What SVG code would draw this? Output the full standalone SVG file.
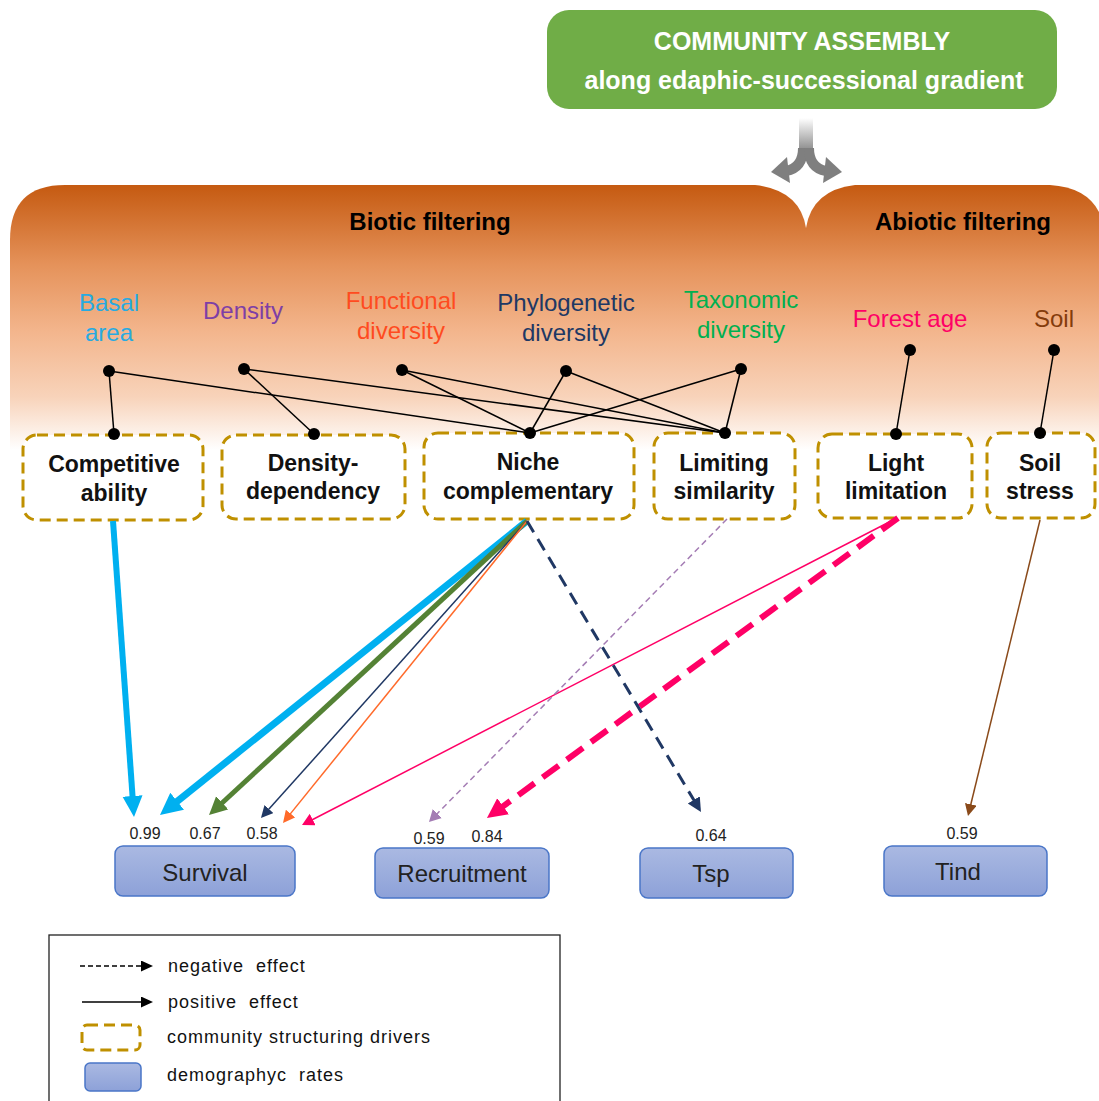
<svg xmlns="http://www.w3.org/2000/svg" width="1099" height="1101" viewBox="0 0 1099 1101">
<defs>
<style>
text{font-family:"Liberation Sans",Arial,sans-serif}
.h{font-weight:bold;font-size:24px;fill:#000;text-anchor:middle}
.lab{font-size:24px;text-anchor:middle}
.nd{font-weight:bold;font-size:23px;fill:#111;text-anchor:middle}
.drv{fill:#fff;stroke:#BF9000;stroke-width:3;stroke-dasharray:11 6}
.rate{fill:url(#blueg);stroke:#4A76C8;stroke-width:1.5}
.rt{font-size:24px;fill:#222;text-anchor:middle}
.val{font-size:16px;fill:#222;text-anchor:middle}
.e{stroke:#000;stroke-width:1.5;fill:none}
.dot{fill:#000}
.leg{font-size:18px;fill:#111;letter-spacing:1px}
</style>
<linearGradient id="orange" gradientUnits="userSpaceOnUse" x1="0" y1="185" x2="0" y2="450">
<stop offset="0" stop-color="#C55A11"/>
<stop offset="0.3" stop-color="#E5925A"/>
<stop offset="0.55" stop-color="#F3B58C"/>
<stop offset="0.8" stop-color="#F8D3BA"/>
<stop offset="1" stop-color="#FFFFFF"/>
</linearGradient>
<linearGradient id="blueg" x1="0" y1="0" x2="0" y2="1">
<stop offset="0" stop-color="#AAB9E2"/>
<stop offset="1" stop-color="#8DA1D8"/>
</linearGradient>
<linearGradient id="stem" x1="0" y1="0" x2="0" y2="1">
<stop offset="0" stop-color="#FFFFFF"/>
<stop offset="1" stop-color="#7F7F7F"/>
</linearGradient>
<marker id="mCyanL" markerUnits="userSpaceOnUse" markerWidth="24" markerHeight="24" refX="1" refY="10" orient="auto"><path d="M0,0 L21,10 L0,20 z" fill="#00B0F0"/></marker>
<marker id="mCyanXL" markerUnits="userSpaceOnUse" markerWidth="26" markerHeight="26" refX="1" refY="11" orient="auto"><path d="M0,0 L22,11 L0,22 z" fill="#00B0F0"/></marker>
<marker id="mGreen" markerUnits="userSpaceOnUse" markerWidth="22" markerHeight="22" refX="1" refY="9" orient="auto"><path d="M0,0 L18,9 L0,18 z" fill="#548235"/></marker>
<marker id="mNavyS" markerUnits="userSpaceOnUse" markerWidth="16" markerHeight="16" refX="1" refY="6" orient="auto"><path d="M0,0 L12,6 L0,12 z" fill="#203864"/></marker>
<marker id="mNavyM" markerUnits="userSpaceOnUse" markerWidth="18" markerHeight="18" refX="1" refY="7" orient="auto"><path d="M0,0 L14,7 L0,14 z" fill="#203864"/></marker>
<marker id="mOrange" markerUnits="userSpaceOnUse" markerWidth="16" markerHeight="16" refX="1" refY="6" orient="auto"><path d="M0,0 L12,6 L0,12 z" fill="#FF6A2A"/></marker>
<marker id="mPinkS" markerUnits="userSpaceOnUse" markerWidth="16" markerHeight="16" refX="1" refY="6.5" orient="auto"><path d="M0,0 L12,6.5 L0,13 z" fill="#FF0066"/></marker>
<marker id="mPinkL" markerUnits="userSpaceOnUse" markerWidth="24" markerHeight="24" refX="1" refY="10" orient="auto"><path d="M0,0 L20,10 L0,20 z" fill="#FF0066"/></marker>
<marker id="mPurple" markerUnits="userSpaceOnUse" markerWidth="16" markerHeight="16" refX="1" refY="6.5" orient="auto"><path d="M0,0 L12,6.5 L0,13 z" fill="#A47CB4"/></marker>
<marker id="mBrown" markerUnits="userSpaceOnUse" markerWidth="16" markerHeight="16" refX="1" refY="6" orient="auto"><path d="M0,0 L12,6 L0,12 z" fill="#8A4A1A"/></marker>
<marker id="mBlack" markerUnits="userSpaceOnUse" markerWidth="16" markerHeight="16" refX="1" refY="5.5" orient="auto"><path d="M0,0 L12,5.5 L0,11 z" fill="#000"/></marker>
</defs>

<!-- Filtering panels -->
<g id="panels">
<path d="M10,530 V240 Q10,185 65,185 H755 Q800,190 806,228 V530 Z" fill="url(#orange)"/>
<path d="M806,228 Q812,190 855,185 H1050 Q1099,188 1105,232 V530 H806 Z" fill="url(#orange)"/>
<text class="h" x="430" y="230">Biotic filtering</text>
<text class="h" x="963" y="230">Abiotic filtering</text>
</g>

<!-- Community assembly -->
<g id="assembly">
<rect x="547" y="10" width="510" height="99" rx="22" fill="#70AD47"/>
<text x="802" y="50" font-weight="bold" font-size="25" fill="#fff" text-anchor="middle">COMMUNITY ASSEMBLY</text>
<text x="804" y="89" font-weight="bold" font-size="25" fill="#fff" text-anchor="middle">along edaphic-successional gradient</text>
</g>

<g id="split-arrow">
<rect x="799" y="118" width="14" height="36" fill="url(#stem)"/>
<path d="M803,148 Q803,168 786,171" stroke="#7F7F7F" stroke-width="10" fill="none"/>
<path d="M809,148 Q809,168 826,171" stroke="#7F7F7F" stroke-width="10" fill="none"/>
<polygon points="771,172 787,157 790,183" fill="#7F7F7F"/>
<polygon points="842,172 826,157 823,183" fill="#7F7F7F"/>
</g>

<!-- Variables -->
<g id="basal-area"><text class="lab" fill="#27AAE1" x="109" y="311">Basal</text><text class="lab" fill="#27AAE1" x="109" y="341">area</text></g>
<g id="density"><text class="lab" fill="#7E3FA6" x="243" y="319">Density</text></g>
<g id="functional-diversity"><text class="lab" fill="#FF4B1F" x="401" y="309">Functional</text><text class="lab" fill="#FF4B1F" x="401" y="339">diversity</text></g>
<g id="phylogenetic-diversity"><text class="lab" fill="#203864" x="566" y="311">Phylogenetic</text><text class="lab" fill="#203864" x="566" y="341">diversity</text></g>
<g id="taxonomic-diversity"><text class="lab" fill="#00B050" x="741" y="308">Taxonomic</text><text class="lab" fill="#00B050" x="741" y="338">diversity</text></g>
<g id="forest-age"><text class="lab" fill="#FF0066" x="910" y="327">Forest age</text></g>
<g id="soil"><text class="lab" fill="#843C0C" x="1054" y="327">Soil</text></g>

<!-- Drivers -->
<g id="competitive-ability"><rect class="drv" x="23" y="435" width="180" height="85" rx="14"/><text class="nd" x="114" y="472">Competitive</text><text class="nd" x="114" y="501">ability</text></g>
<g id="density-dependency"><rect class="drv" x="222" y="435" width="183" height="84" rx="14"/><text class="nd" x="313" y="471">Density-</text><text class="nd" x="313" y="499">dependency</text></g>
<g id="niche-complementary"><rect class="drv" x="424" y="433" width="210" height="86" rx="14"/><text class="nd" x="528" y="470">Niche</text><text class="nd" x="528" y="499">complementary</text></g>
<g id="limiting-similarity"><rect class="drv" x="654" y="433" width="141" height="86" rx="14"/><text class="nd" x="724" y="471">Limiting</text><text class="nd" x="724" y="499">similarity</text></g>
<g id="light-limitation"><rect class="drv" x="818" y="434" width="154" height="84" rx="14"/><text class="nd" x="896" y="471">Light</text><text class="nd" x="896" y="499">limitation</text></g>
<g id="soil-stress"><rect class="drv" x="987" y="433" width="108" height="85" rx="14"/><text class="nd" x="1040" y="471">Soil</text><text class="nd" x="1040" y="499">stress</text></g>

<!-- Demographic rates -->
<g id="survival"><rect class="rate" x="115" y="846" width="180" height="50" rx="8"/><text class="rt" x="205" y="881">Survival</text></g>
<g id="recruitment"><rect class="rate" x="375" y="848" width="174" height="50" rx="8"/><text class="rt" x="462" y="882">Recruitment</text></g>
<g id="tsp"><rect class="rate" x="640" y="848" width="153" height="50" rx="8"/><text class="rt" x="711" y="882">Tsp</text></g>
<g id="tind"><rect class="rate" x="884" y="846" width="163" height="50" rx="8"/><text class="rt" x="958" y="880">Tind</text></g>

<!-- Connectors -->
<g id="connectors">
<line class="e" x1="109" y1="371" x2="114" y2="434"/>
<line class="e" x1="109" y1="371" x2="530" y2="433"/>
<line class="e" x1="244" y1="369" x2="314" y2="434"/>
<line class="e" x1="244" y1="369" x2="725" y2="433"/>
<line class="e" x1="402" y1="370" x2="530" y2="433"/>
<line class="e" x1="402" y1="370" x2="725" y2="433"/>
<line class="e" x1="566" y1="371" x2="530" y2="433"/>
<line class="e" x1="566" y1="371" x2="725" y2="433"/>
<line class="e" x1="741" y1="369" x2="530" y2="433"/>
<line class="e" x1="741" y1="369" x2="725" y2="433"/>
<line class="e" x1="910" y1="350" x2="896" y2="434"/>
<line class="e" x1="1054" y1="350" x2="1040" y2="433"/>
<circle class="dot" cx="109" cy="371" r="6"/>
<circle class="dot" cx="244" cy="369" r="6"/>
<circle class="dot" cx="402" cy="370" r="6"/>
<circle class="dot" cx="566" cy="371" r="6"/>
<circle class="dot" cx="741" cy="369" r="6"/>
<circle class="dot" cx="910" cy="350" r="6"/>
<circle class="dot" cx="1054" cy="350" r="6"/>
<circle class="dot" cx="114" cy="434" r="6"/>
<circle class="dot" cx="314" cy="434" r="6"/>
<circle class="dot" cx="530" cy="433" r="6"/>
<circle class="dot" cx="725" cy="433" r="6"/>
<circle class="dot" cx="896" cy="434" r="6"/>
<circle class="dot" cx="1040" cy="433" r="6"/>

<line x1="113" y1="521" x2="132.6" y2="797" stroke="#00B0F0" stroke-width="6" marker-end="url(#mCyanL)"/>
<line x1="527" y1="521" x2="176.4" y2="801.9" stroke="#00B0F0" stroke-width="7" marker-end="url(#mCyanXL)"/>
<line x1="527" y1="521" x2="221.5" y2="803.5" stroke="#548235" stroke-width="5" marker-end="url(#mGreen)"/>
<line x1="527" y1="521" x2="268.3" y2="809.8" stroke="#203864" stroke-width="1.5" marker-end="url(#mNavyS)"/>
<line x1="527" y1="521" x2="289.9" y2="814.4" stroke="#FF6A2A" stroke-width="1.5" marker-end="url(#mOrange)"/>
<line x1="897" y1="518" x2="311.8" y2="820" stroke="#FF0066" stroke-width="1.5" marker-end="url(#mPinkS)"/>
<line x1="727" y1="519" x2="436.7" y2="814.2" stroke="#A47CB4" stroke-width="1.5" stroke-dasharray="6 4" marker-end="url(#mPurple)"/>
<line x1="898" y1="518" x2="502.3" y2="806.8" stroke="#FF0066" stroke-width="6" stroke-dasharray="20 10" marker-end="url(#mPinkL)"/>
<line x1="527" y1="521" x2="694.3" y2="800.8" stroke="#203864" stroke-width="3" stroke-dasharray="13 8" marker-end="url(#mNavyM)"/>
<line x1="1040" y1="520" x2="970.6" y2="805.3" stroke="#8A4A1A" stroke-width="1.5" marker-end="url(#mBrown)"/>
</g>

<!-- Coefficients -->
<g id="values">
<text class="val" x="145" y="839">0.99</text>
<text class="val" x="205" y="839">0.67</text>
<text class="val" x="262" y="839">0.58</text>
<text class="val" x="429" y="844">0.59</text>
<text class="val" x="487" y="842">0.84</text>
<text class="val" x="711" y="841">0.64</text>
<text class="val" x="962" y="839">0.59</text>
</g>

<!-- Legend -->
<g id="legend">
<rect x="49" y="935" width="511" height="190" fill="#fff" stroke="#222" stroke-width="1.3"/>
<line x1="80" y1="966" x2="142" y2="966" stroke="#000" stroke-width="1.3" stroke-dasharray="5 3" marker-end="url(#mBlack)"/>
<text class="leg" x="168" y="972" xml:space="preserve">negative  effect</text>
<line x1="82" y1="1002" x2="142" y2="1002" stroke="#000" stroke-width="1.3" marker-end="url(#mBlack)"/>
<text class="leg" x="168" y="1008" xml:space="preserve">positive  effect</text>
<rect class="drv" x="82" y="1025" width="58" height="25" rx="5"/>
<text class="leg" x="167" y="1043">community structuring drivers</text>
<rect class="rate" x="85" y="1063" width="56" height="28" rx="5"/>
<text class="leg" x="167" y="1081" xml:space="preserve">demographyc  rates</text>
</g>
</svg>
